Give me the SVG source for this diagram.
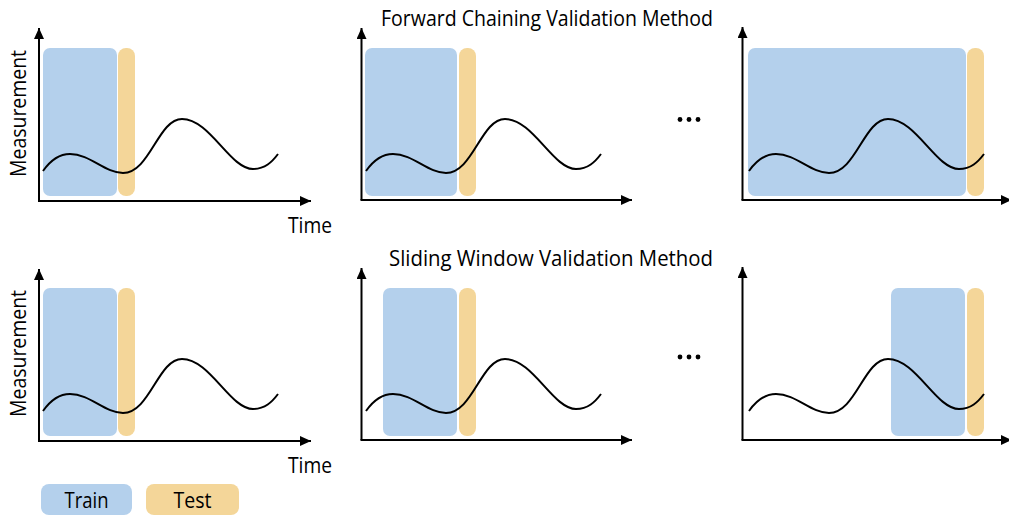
<svg xmlns="http://www.w3.org/2000/svg" xmlns:xlink="http://www.w3.org/1999/xlink" width="1009" height="516" viewBox="0 0 1009 516">
  <style>
    .train { fill: #b4d0ec; }
    .test { fill: #f4d699; }
    .axis { stroke: #000; stroke-width: 2; fill: none; }
    .signal { stroke: #000; stroke-width: 2; fill: none; }
    .lbl { font-family: "Open Sans", Lato, "Liberation Sans", sans-serif; font-size: 21px; fill: #000; }
    .key { font-size: 22px; }
  </style>
  <defs>
    <marker id="arrow" markerUnits="userSpaceOnUse" markerWidth="12" markerHeight="12" refX="11" refY="5" orient="auto">
      <path d="M0,0 L11,5 L0,10 Z" fill="#000"/>
    </marker>
    <path id="wave" d="M43,171 C50,161 58,154 70,154 C90,154 105,173 123,173 C150,173 158,119 182,119 C210,119 230,169 253,169 C265,169 272,162 278,154"/>
  </defs>
  <rect width="1009" height="516" fill="#fff"/>

  <!-- titles -->
  <text class="lbl" x="381" y="26" textLength="332" lengthAdjust="spacingAndGlyphs">Forward Chaining Validation Method</text>
  <text class="lbl" x="389" y="266" textLength="324" lengthAdjust="spacingAndGlyphs">Sliding Window Validation Method</text>

  <!-- forward chaining, fold 1 -->
  <g id="fc-1">
    <rect class="train" x="43" y="48" width="74" height="148" rx="7"/>
    <rect class="test" x="118" y="48" width="17" height="148" rx="8"/>
    <use xlink:href="#wave" class="signal"/>
  </g>
  <!-- forward chaining, fold 2 -->
  <g id="fc-2">
    <rect class="train" x="365" y="48" width="92" height="148" rx="7"/>
    <rect class="test" x="459" y="48" width="17" height="148" rx="8"/>
    <use xlink:href="#wave" class="signal" transform="translate(323,0)"/>
  </g>
  <!-- forward chaining, last fold -->
  <g id="fc-n">
    <rect class="train" x="748" y="48" width="218" height="148" rx="7"/>
    <rect class="test" x="967" y="48" width="17" height="148" rx="8"/>
    <use xlink:href="#wave" class="signal" transform="translate(706,0)"/>
  </g>

  <!-- sliding window, fold 1 -->
  <g id="sw-1">
    <rect class="train" x="43" y="288" width="74" height="148" rx="7"/>
    <rect class="test" x="118" y="288" width="17" height="148" rx="8"/>
    <use xlink:href="#wave" class="signal" transform="translate(0,240)"/>
  </g>
  <!-- sliding window, fold 2 -->
  <g id="sw-2">
    <rect class="train" x="383" y="288" width="74" height="148" rx="7"/>
    <rect class="test" x="459" y="288" width="17" height="148" rx="8"/>
    <use xlink:href="#wave" class="signal" transform="translate(323,240)"/>
  </g>
  <!-- sliding window, last fold -->
  <g id="sw-n">
    <rect class="train" x="891" y="288" width="74" height="148" rx="7"/>
    <rect class="test" x="967" y="288" width="17" height="148" rx="8"/>
    <use xlink:href="#wave" class="signal" transform="translate(706,240)"/>
  </g>

  <!-- axes -->
  <g id="axes">
    <path class="axis" d="M39,201 V28" marker-end="url(#arrow)"/>
    <path class="axis" d="M38,201 H311" marker-end="url(#arrow)"/>
    <path class="axis" d="M361.5,200 V28" marker-end="url(#arrow)"/>
    <path class="axis" d="M360.5,200 H632" marker-end="url(#arrow)"/>
    <path class="axis" d="M742.5,200 V27" marker-end="url(#arrow)"/>
    <path class="axis" d="M741.5,200 H1012" marker-end="url(#arrow)"/>

    <path class="axis" d="M39,441 V269" marker-end="url(#arrow)"/>
    <path class="axis" d="M38,441 H311" marker-end="url(#arrow)"/>
    <path class="axis" d="M361.5,440 V268" marker-end="url(#arrow)"/>
    <path class="axis" d="M360.5,440 H632" marker-end="url(#arrow)"/>
    <path class="axis" d="M742.5,440 V267" marker-end="url(#arrow)"/>
    <path class="axis" d="M741.5,440 H1012" marker-end="url(#arrow)"/>
  </g>

  <!-- axis labels -->
  <text class="lbl" transform="translate(26,113.5) rotate(-90)" text-anchor="middle" textLength="127" lengthAdjust="spacingAndGlyphs">Measurement</text>
  <text class="lbl" transform="translate(26,353.5) rotate(-90)" text-anchor="middle" textLength="127" lengthAdjust="spacingAndGlyphs">Measurement</text>
  <text class="lbl" x="288" y="233" textLength="44" lengthAdjust="spacingAndGlyphs">Time</text>
  <text class="lbl" x="288" y="473" textLength="44" lengthAdjust="spacingAndGlyphs">Time</text>

  <!-- ellipses between folds -->
  <g id="ellipsis-top" fill="#000">
    <circle cx="680" cy="119.5" r="2.4"/>
    <circle cx="689" cy="119.5" r="2.4"/>
    <circle cx="698" cy="119.5" r="2.4"/>
  </g>
  <g id="ellipsis-bottom" fill="#000">
    <circle cx="680" cy="357" r="2.4"/>
    <circle cx="689" cy="357" r="2.4"/>
    <circle cx="698" cy="357" r="2.4"/>
  </g>

  <!-- legend -->
  <g id="legend-train">
    <rect class="train" x="41" y="484" width="91" height="31" rx="8"/>
    <text class="lbl key" x="86.5" y="508" text-anchor="middle" textLength="44" lengthAdjust="spacingAndGlyphs">Train</text>
  </g>
  <g id="legend-test">
    <rect class="test" x="146" y="484" width="93" height="31" rx="8"/>
    <text class="lbl key" x="192.5" y="508" text-anchor="middle" textLength="38" lengthAdjust="spacingAndGlyphs">Test</text>
  </g>
</svg>
